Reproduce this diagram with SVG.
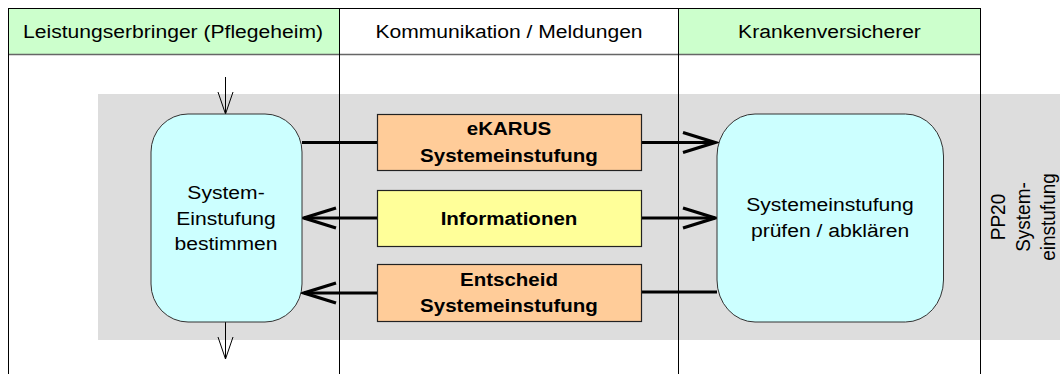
<svg xmlns="http://www.w3.org/2000/svg" width="1060" height="374" viewBox="0 0 1060 374">
  <style>
    .lane { stroke: #000; stroke-width: 1; fill: none; }
    .hdr { fill: #CCFFCC; }
    .t { font-family: "Liberation Sans", Arial, sans-serif; font-size: 19px; fill: #000; text-anchor: middle; }
    .b { font-weight: bold; }
    .proc { fill: #CCFFFF; stroke: #333; stroke-width: 1; }
    .msg { fill: #FFCC99; stroke: #222; stroke-width: 1.2; }
    .info { fill: #FFFF99; stroke: #222; stroke-width: 1.2; }
    .flow { stroke: #000; stroke-width: 3.2; fill: none; }
    .thin { stroke: #000; stroke-width: 1; fill: none; }
  </style>
  <defs>
    <marker id="open" markerUnits="userSpaceOnUse" viewBox="-36 -14 40 28" refX="0" refY="0" markerWidth="40" markerHeight="28" orient="auto">
      <path d="M-32,-10 L0,0 L-32,10" fill="none" stroke="#000" stroke-width="3.2" stroke-linejoin="miter"/>
    </marker>
  </defs>

  <rect width="1060" height="374" fill="#fff"/>

  <!-- phase band -->
  <rect x="98" y="94" width="962" height="246" fill="#DDDDDD"/>

  <!-- swimlane headers -->
  <g id="lanes">
    <rect class="hdr" x="8" y="8" width="331.5" height="46.5"/>
    <rect class="hdr" x="678.5" y="8" width="302" height="46.5"/>
    <line x1="8" y1="54.5" x2="980.5" y2="54.5" stroke="#666" stroke-width="1.5"/>
    <line class="lane" x1="8" y1="8.5" x2="980.5" y2="8.5"/>
    <line class="lane" x1="8.5" y1="8" x2="8.5" y2="374"/>
    <line class="lane" x1="339.5" y1="8" x2="339.5" y2="374"/>
    <line class="lane" x1="678.5" y1="8" x2="678.5" y2="374"/>
    <line class="lane" x1="980.5" y1="8" x2="980.5" y2="374" stroke-width="1.5"/>
    <text class="t" transform="translate(173,37.5) scale(1.11,1)">Leistungserbringer (Pflegeheim)</text>
    <text class="t" transform="translate(509,37.5) scale(1.11,1)">Kommunikation / Meldungen</text>
    <text class="t" transform="translate(829.5,37.5) scale(1.11,1)">Krankenversicherer</text>
  </g>

  <!-- phase label -->
  <g id="phase">
    <text class="t" transform="translate(1005,217) rotate(-90) scale(1,1.1)">PP20</text>
    <text class="t" transform="translate(1030,217) rotate(-90) scale(1,1.1)">System-</text>
    <text class="t" transform="translate(1055,217) rotate(-90) scale(1,1.1)">einstufung</text>
  </g>

  <!-- connectors -->
  <g id="connectors">
    <line class="thin" x1="225.5" y1="77" x2="225.5" y2="114"/>
    <polyline class="thin" points="218,92 225.5,114 233,92"/>
    <line class="thin" x1="225.5" y1="322" x2="225.5" y2="359"/>
    <polyline class="thin" points="218,337 225.5,359 233,337"/>

    <line class="flow" x1="302" y1="142.5" x2="377" y2="142.5"/>
    <line class="flow" x1="641" y1="142.5" x2="715" y2="142.5" marker-end="url(#open)"/>

    <line class="flow" x1="377" y1="218" x2="304" y2="218" marker-end="url(#open)"/>
    <line class="flow" x1="641" y1="218" x2="715" y2="218" marker-end="url(#open)"/>

    <line class="flow" x1="717" y1="292" x2="641" y2="292"/>
    <line class="flow" x1="377" y1="293" x2="304" y2="293" marker-end="url(#open)"/>
  </g>

  <!-- process: determine classification -->
  <g id="node-bestimmen">
    <rect class="proc" x="151" y="114" width="151" height="208" rx="37" ry="38"/>
    <text class="t" transform="translate(226,199) scale(1.11,1)">System-</text>
    <text class="t" transform="translate(226,224.5) scale(1.11,1)">Einstufung</text>
    <text class="t" transform="translate(226,250) scale(1.11,1)">bestimmen</text>
  </g>

  <!-- process: check classification -->
  <g id="node-pruefen">
    <rect class="proc" x="717" y="114" width="226.5" height="208" rx="38" ry="42"/>
    <text class="t" transform="translate(830,211) scale(1.11,1)">Systemeinstufung</text>
    <text class="t" transform="translate(830,237) scale(1.11,1)">prüfen / abklären</text>
  </g>

  <!-- messages -->
  <g id="msg-ekarus">
    <rect class="msg" x="377.5" y="114.5" width="264" height="56"/>
    <text class="t b" transform="translate(509,135) scale(1.08,1)">eKARUS</text>
    <text class="t b" transform="translate(509,162) scale(1.08,1)">Systemeinstufung</text>
  </g>
  <g id="msg-informationen">
    <rect class="info" x="377.5" y="190.5" width="264" height="56"/>
    <text class="t b" transform="translate(509,224.5) scale(1.08,1)">Informationen</text>
  </g>
  <g id="msg-entscheid">
    <rect class="msg" x="377.5" y="264.5" width="264" height="57"/>
    <text class="t b" transform="translate(509,286) scale(1.08,1)">Entscheid</text>
    <text class="t b" transform="translate(509,312) scale(1.08,1)">Systemeinstufung</text>
  </g>
</svg>
